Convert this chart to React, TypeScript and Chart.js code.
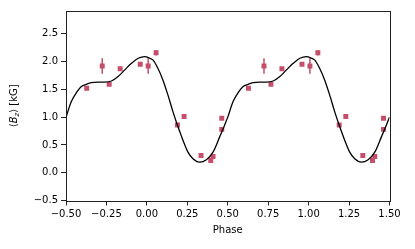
import React, { useEffect, useRef } from 'react';
import { Chart, registerables } from 'chart.js';

Chart.register(...registerables);

// Observed data (one rotational cycle; plotted twice)
const obsPhase = [-0.372, -0.276, -0.233, -0.165, -0.041, 0.008, 0.057, 0.189, 0.23, 0.335, 0.395, 0.409, 0.463, 0.463];
const obsB = [1.52, 1.92, 1.59, 1.87, 1.95, 1.92, 2.16, 0.86, 1.01, 0.31, 0.22, 0.29, 0.98, 0.78];
const obsErr = [0.03, 0.14, 0.03, 0.03, 0.03, 0.14, 0.05, 0.03, 0.03, 0.04, 0.03, 0.03, 0.03, 0.03];

// Model curve (one cycle)
const curvePhase = [-0.5, -0.467, -0.436, -0.405, -0.374, -0.343, -0.302, -0.261, -0.219, -0.178, -0.137, -0.095, -0.054, -0.013, 0.018, 0.037, 0.068, 0.099, 0.13, 0.161, 0.192, 0.223, 0.254, 0.285, 0.326, 0.368, 0.409, 0.45, 0.481, 0.5];
const curveB = [1.0, 1.28, 1.44, 1.55, 1.59, 1.62, 1.63, 1.63, 1.65, 1.73, 1.85, 1.97, 2.06, 2.09, 2.06, 2.03, 1.88, 1.67, 1.4, 1.1, 0.83, 0.585, 0.37, 0.25, 0.19, 0.235, 0.37, 0.645, 0.86, 1.0];

const cycles = [0, 1];
const xTicks = [-0.5, -0.25, 0, 0.25, 0.5, 0.75, 1, 1.25, 1.5];
const yTicks = [-0.5, 0, 0.5, 1, 1.5, 2, 2.5];
const xMin = -0.5;
const xMax = 1.5;
const yMin = -0.5;
const yMax = 2.91;

const MARK = 'rgb(196, 78, 107)';
const FONT = "'DejaVu Sans', sans-serif";

const fmt = (v: number, d: number) => {
  const s = Math.abs(v).toFixed(d);
  return v < -1e-9 ? '\u2212' + s : s;
};

export default function App() {
  const ref = useRef<HTMLCanvasElement | null>(null);
  useEffect(() => {
    if (!ref.current) return;
    const points: { x: number; y: number; e: number }[] = [];
    cycles.forEach((c) => {
      obsPhase.forEach((p, i) => points.push({ x: p + c, y: obsB[i], e: obsErr[i] }));
    });
    const curve: { x: number; y: number }[] = [];
    cycles.forEach((c, ci) => {
      curvePhase.forEach((p, i) => {
        if (ci > 0 && i === 0) return;
        curve.push({ x: p + c, y: curveB[i] });
      });
    });

    const errorBars = {
      id: 'errorBars',
      beforeDatasetsDraw(chart: any) {
        const { ctx, scales } = chart;
        ctx.save();
        ctx.strokeStyle = MARK;
        ctx.lineWidth = 1.5;
        points.forEach((pt) => {
          const x = scales.x.getPixelForValue(pt.x);
          const y1 = scales.y.getPixelForValue(pt.y - pt.e);
          const y2 = scales.y.getPixelForValue(pt.y + pt.e);
          ctx.beginPath();
          ctx.moveTo(x, y1);
          ctx.lineTo(x, y2);
          ctx.stroke();
        });
        ctx.restore();
      },
    };

    const frame = {
      id: 'frame',
      afterDraw(chart: any) {
        const { ctx, chartArea: a } = chart;
        ctx.save();
        ctx.strokeStyle = '#222';
        ctx.lineWidth = 1;
        ctx.strokeRect(Math.round(a.left) + 0.5, Math.round(a.top) + 0.5, Math.round(a.right - a.left), Math.round(a.bottom - a.top));
        // y-axis title with mathtext-like subscript
        const cy = (a.top + a.bottom) / 2;
        ctx.translate(13, cy);
        ctx.rotate(-Math.PI / 2);
        ctx.fillStyle = '#000';
        ctx.textBaseline = 'alphabetic';
        const parts = [
          { t: '\u27E8', f: `10px ${FONT}`, dy: 0 },
          { t: 'B', f: `italic 10px ${FONT}`, dy: 0 },
          { t: 'z', f: `italic 7px ${FONT}`, dy: 2 },
          { t: '\u27E9 [kG]', f: `10px ${FONT}`, dy: 0 },
        ];
        let total = 0;
        parts.forEach((p) => {
          ctx.font = p.f;
          total += ctx.measureText(p.t).width;
        });
        let x = -total / 2;
        parts.forEach((p) => {
          ctx.font = p.f;
          ctx.fillText(p.t, x, 4 + p.dy);
          x += ctx.measureText(p.t).width;
        });
        ctx.restore();
      },
    };

    const chart = new Chart(ref.current, {
      type: 'scatter',
      data: {
        datasets: [
          {
            type: 'line',
            data: curve,
            borderColor: '#000',
            borderWidth: 1.3,
            pointRadius: 0,
            cubicInterpolationMode: 'monotone',
            fill: false,
          } as any,
          {
            data: points.map((p) => ({ x: p.x, y: p.y })),
            backgroundColor: MARK,
            borderColor: MARK,
            borderWidth: 0,
            pointStyle: 'rect',
            pointRadius: 3.5,
          },
        ],
      },
      options: {
        animation: false,
        responsive: false,
        devicePixelRatio: 1,
        layout: { padding: { left: 0, right: 25.5, top: 11, bottom: 0 } },
        plugins: { legend: { display: false }, tooltip: { enabled: false } },
        scales: {
          x: {
            type: 'linear',
            min: xMin,
            max: xMax,
            afterFit: (s: any) => { s.height = 48.5; },
            afterBuildTicks: (s: any) => { s.ticks = xTicks.map((v) => ({ value: v })); },
            border: { display: false },
            grid: { drawOnChartArea: false, drawTicks: true, tickLength: 5, color: '#222' },
            ticks: {
              padding: 3,
              color: '#000',
              font: { family: FONT, size: 10 },
              callback: (v: any) => fmt(Number(v), 2),
              maxRotation: 0,
            },
            title: { display: true, text: 'Phase', color: '#000', font: { family: FONT, size: 10 }, padding: { top: 0, bottom: 13 } },
          },
          y: {
            type: 'linear',
            min: yMin,
            max: yMax,
            afterFit: (s: any) => { s.width = 66; },
            afterBuildTicks: (s: any) => { s.ticks = yTicks.map((v) => ({ value: v })); },
            border: { display: false },
            grid: { drawOnChartArea: false, drawTicks: true, tickLength: 5, color: '#222' },
            ticks: {
              padding: 3,
              color: '#000',
              font: { family: FONT, size: 10 },
              callback: (v: any) => fmt(Number(v), 1),
            },
          },
        },
      },
      plugins: [errorBars, frame],
    });
    return () => chart.destroy();
  }, []);

  return (
    <div style={{ position: 'fixed', left: 0, top: 0, width: 415, height: 249, background: '#fff' }}>
      <canvas ref={ref} width={415} height={249} style={{ width: 415, height: 249 }} />
    </div>
  );
}
